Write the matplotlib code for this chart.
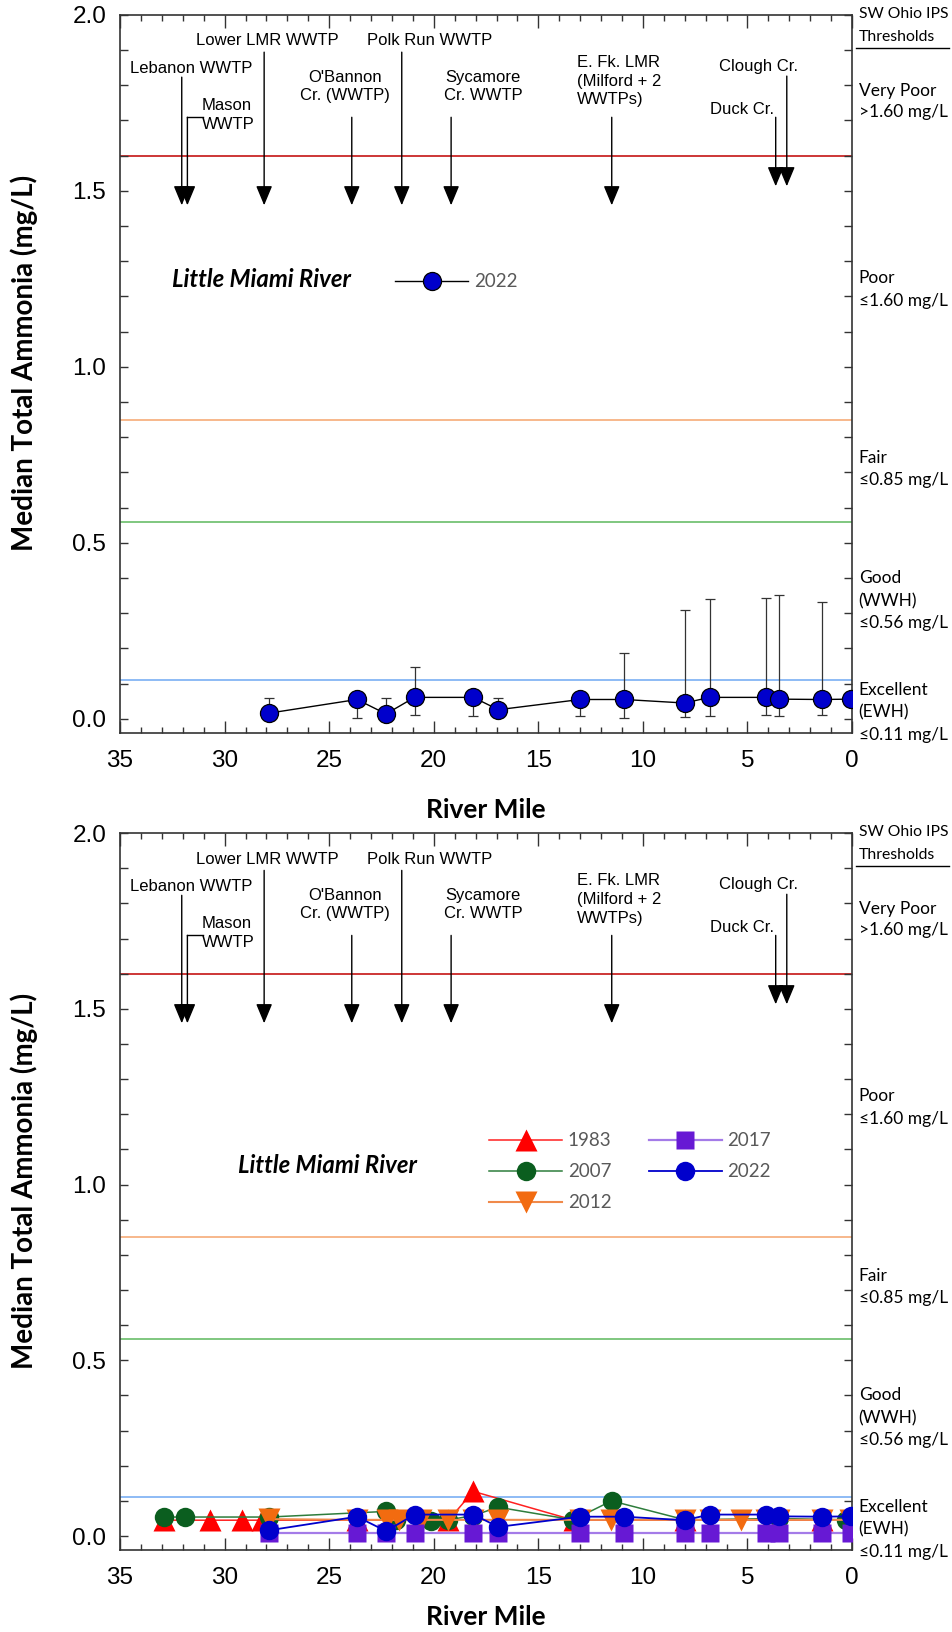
import matplotlib
matplotlib.use("Agg")
import matplotlib.pyplot as plt
import matplotlib.transforms as mtransforms
from matplotlib.ticker import MultipleLocator

ARIAL = ["Liberation Sans", "DejaVu Sans"]
CALIBRI = ["Lato", "DejaVu Sans"]

# Median total ammonia (mg/L) by river mile
rm_2022 = [27.9, 23.67, 22.28, 20.92, 18.11, 16.91, 13.0, 10.89, 8.01, 6.81, 4.12, 3.5, 1.46, 0.07]
nh3_2022 = [0.016, 0.055, 0.014, 0.061, 0.061, 0.026, 0.055, 0.055, 0.045, 0.061, 0.061, 0.056, 0.055, 0.056]
nh3_2022_hi = [0.059, 0.060, 0.058, 0.146, 0.065, 0.060, 0.060, 0.187, 0.310, 0.340, 0.343, 0.352, 0.332, 0.056]
nh3_2022_lo = [0.012, 0.002, 0.010, 0.011, 0.008, 0.005, 0.009, 0.002, 0.005, 0.008, 0.010, 0.008, 0.011, 0.056]

rm_2017 = [27.9, 23.67, 22.28, 20.92, 18.11, 16.91, 13.0, 10.89, 8.01, 6.81, 4.12, 3.5, 1.46, 0.07]
nh3_2017 = [0.010, 0.010, 0.010, 0.010, 0.010, 0.010, 0.010, 0.010, 0.010, 0.010, 0.010, 0.010, 0.010, 0.010]

rm_2012 = [27.86, 23.68, 22.25, 21.64, 20.6, 19.3, 18.11, 16.91, 13.0, 11.54, 7.98, 6.79, 5.32, 4.13, 3.48, 1.45, 0.1]
nh3_2012 = [0.048, 0.046, 0.046, 0.046, 0.046, 0.046, 0.046, 0.046, 0.046, 0.046, 0.046, 0.046, 0.046, 0.046, 0.046, 0.046, 0.046]

rm_2007 = [32.9, 31.9, 27.86, 22.28, 21.8, 20.13, 19.3, 18.11, 16.93, 13.33, 11.5, 7.98, 3.5, 0.3]
nh3_2007 = [0.054, 0.054, 0.054, 0.070, 0.045, 0.044, 0.046, 0.058, 0.082, 0.046, 0.100, 0.046, 0.050, 0.046]

rm_1983 = [32.9, 30.7, 29.18, 28.23, 23.68, 19.3, 18.11, 13.3, 7.98, 1.45]
nh3_1983 = [0.045, 0.045, 0.045, 0.045, 0.045, 0.045, 0.127, 0.045, 0.045, 0.045]

# SW Ohio IPS thresholds
thresholds = [1.60, 0.85, 0.56, 0.11]
threshold_colors = ["#c00000", "#f5a46c", "#5cb85c", "#6fa8f2"]
class_text = ["SW Ohio IPS", "Thresholds", "Very Poor", ">1.60 mg/L", "Poor", "\u22641.60 mg/L",
              "Fair", "\u22640.85 mg/L", "Good", "(WWH)", "\u22640.56 mg/L",
              "Excellent", "(EWH)", "\u22640.11 mg/L"]
class_y = [2.002, 1.937, 1.783, 1.724, 1.252, 1.187, 0.740, 0.678, 0.400, 0.335, 0.272, 0.082, 0.018, -0.045]

# Point sources / tributaries along the river
site_names = ["Lebanon WWTP", "Mason\nWWTP", "Lower LMR WWTP", "O'Bannon\nCr. (WWTP)", "Polk Run WWTP",
              "Sycamore\nCr. WWTP", "E. Fk. LMR\n(Milford + 2\nWWTPs)", "Clough Cr.", "Duck Cr."]
site_rm = [32.05, 31.78, 28.11, 23.92, 21.53, 19.17, 11.49, 3.12, 3.65]
# label x, label y, alignment, arrow start, arrow tip
site_layout = [(31.61, 1.849, "center", 1.823, 1.459),
               (31.09, 1.715, "left", 1.709, 1.459),
               (27.95, 1.926, "center", 1.894, 1.459),
               (24.24, 1.797, "center", 1.709, 1.459),
               (20.19, 1.926, "center", 1.894, 1.459),
               (17.63, 1.797, "center", 1.709, 1.459),
               (13.16, 1.811, "left", 1.709, 1.459),
               (4.48, 1.854, "center", 1.826, 1.513),
               (5.27, 1.732, "center", 1.709, 1.513)]


def style_axes(ax, xlabel_y):
    ax.set_xlim(35, 0)
    ax.set_ylim(-0.04, 2.0)
    ax.xaxis.set_major_locator(MultipleLocator(5))
    ax.xaxis.set_minor_locator(MultipleLocator(1))
    ax.yaxis.set_major_locator(MultipleLocator(0.5))
    ax.yaxis.set_minor_locator(MultipleLocator(0.1))
    ax.yaxis.set_major_formatter(lambda v, pos: f"{v:.1f}")
    ax.tick_params(axis="x", which="both", direction="in", top=True, bottom=True,
                   color="#333333", width=1.0)
    ax.tick_params(axis="x", which="major", length=9, pad=12, labelsize=17.5)
    ax.tick_params(axis="x", which="minor", length=4.5)
    ax.tick_params(axis="y", which="both", direction="in", left=True, right=True,
                   length=6, color="#333333", width=1.0)
    ax.tick_params(axis="y", which="major", pad=10, labelsize=17.5)
    for lbl in ax.get_xticklabels() + ax.get_yticklabels():
        lbl.set_family(ARIAL)
    for sp in ax.spines.values():
        sp.set_linewidth(1.2)
        sp.set_color("#333333")
    ax.set_xlabel("River Mile", fontsize=19, fontweight="bold", family=CALIBRI)
    ax.set_ylabel("Median Total Ammonia (mg/L)", fontsize=20, fontweight="bold", family=CALIBRI)
    ax.xaxis.set_label_coords(0.5, xlabel_y)
    ax.yaxis.set_label_coords(-0.112, 0.515)

    for val, col in zip(thresholds, threshold_colors):
        ax.axhline(val, color=col, lw=1.1, zorder=1)

    trans = mtransforms.blended_transform_factory(ax.transAxes, ax.transData)
    for txt, yy in zip(class_text, class_y):
        ax.text(1.009, yy, txt, transform=trans, ha="left", va="center",
                fontsize=11.3 if yy > 1.9 else 12.5, family=CALIBRI, clip_on=False)
    ax.plot([1.005, 1.133], [1.906, 1.906], transform=trans, color="black",
            lw=1.0, clip_on=False)

    for name, rm, (tx, ty, ha, top, tip) in zip(site_names, site_rm, site_layout):
        ax.annotate("", xy=(rm, tip), xytext=(rm, top),
                    arrowprops=dict(arrowstyle="-|>,head_length=1.2,head_width=0.5",
                                    color="black", lw=1.0, shrinkA=0, shrinkB=0))
        ax.text(tx, ty, name, ha=ha, va="center", fontsize=12, family=ARIAL,
                linespacing=1.3, multialignment="left" if ha == "left" else "center")
        if name.startswith("Mason"):
            ax.plot([rm, tx - 0.05], [top, top], color="black", lw=1.0)


fig = plt.figure(figsize=(9.52, 16.32), dpi=100)
ax1 = fig.add_axes([0.1261, 0.5509, 0.7689, 0.4400])
ax2 = fig.add_axes([0.1261, 0.0502, 0.7689, 0.4393])

# Upper panel: 2022 with ranges
style_axes(ax1, -0.09)
ax1.errorbar(rm_2022, nh3_2022,
             yerr=[[m - lo for m, lo in zip(nh3_2022, nh3_2022_lo)],
                   [hi - m for m, hi in zip(nh3_2022, nh3_2022_hi)]],
             fmt="none", ecolor="#333333", elinewidth=0.9, capsize=3.5, capthick=0.9, zorder=2)
ax1.plot(rm_2022, nh3_2022, color="black", lw=1.0, marker="o", ms=13,
         mfc="#0000cc", mec="black", mew=0.9, zorder=3, label="2022")
ax1.text(32.51, 1.247, "Little Miami River", fontsize=17.2, fontweight="bold",
         style="italic", family=CALIBRI, ha="left", va="center")
ax1.legend(loc="upper left", bbox_to_anchor=(0.376, 0.640), frameon=False,
           borderpad=0, borderaxespad=0, handlelength=3.9, handletextpad=0.3,
           prop=dict(family=CALIBRI, size=13.5), labelcolor="#595959")

# Lower panel: all survey years
style_axes(ax2, -0.076)
ax2.plot(rm_1983, nh3_1983, color="#ff2020", lw=1.1, marker="^", ms=15.5,
         mfc="#ff0000", mec="none", zorder=3, label="1983")
ax2.plot(rm_2007, nh3_2007, color="#2e7d3c", lw=1.1, marker="o", ms=14,
         mfc="#0b5e1f", mec="none", zorder=4, label="2007")
ax2.plot(rm_2012, nh3_2012, color="#f08a4b", lw=1.5, marker="v", ms=15.5,
         mfc="#f26b10", mec="none", zorder=5, label="2012")
ax2.plot(rm_2017, nh3_2017, color="#a47be8", lw=1.6, marker="s", ms=13.5,
         mfc="#6719d4", mec="none", zorder=6, label="2017")
ax2.plot(rm_2022, nh3_2022, color="#0000cc", lw=1.3, marker="o", ms=14,
         mfc="#0000cc", mec="none", zorder=7, label="2022")
ax2.text(29.36, 1.055, "Little Miami River", fontsize=17.2, fontweight="bold",
         style="italic", family=CALIBRI, ha="left", va="center")
ax2.legend(loc="upper left", bbox_to_anchor=(0.504, 0.583), ncol=2, frameon=False,
           borderpad=0, borderaxespad=0, handlelength=3.9, handletextpad=0.3,
           columnspacing=2.0, labelspacing=0.75,
           prop=dict(family=CALIBRI, size=13.5), labelcolor="#595959")

fig.savefig("out.png", dpi=100, facecolor="white")
